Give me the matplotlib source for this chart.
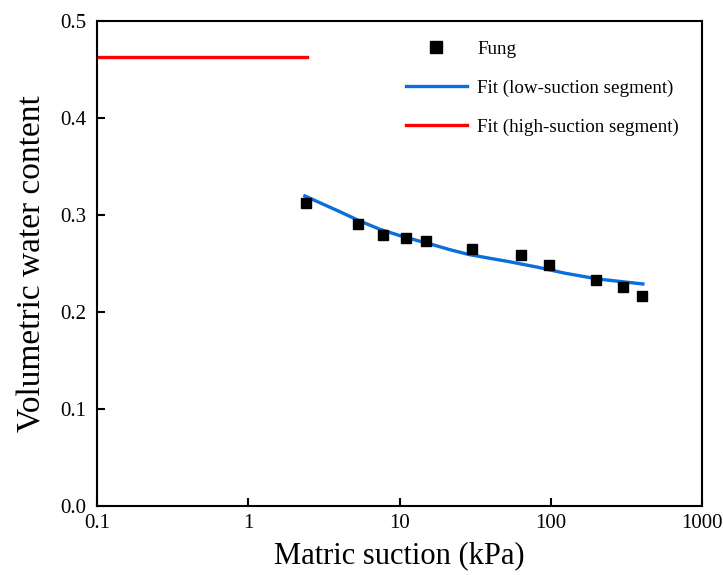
import matplotlib
matplotlib.use("Agg")
import matplotlib.pyplot as plt
from matplotlib.ticker import FixedLocator, FixedFormatter, NullLocator

plt.rcParams['font.family'] = ['Liberation Serif', 'DejaVu Serif']

# Measured data (Fung)
suction = [2.4, 5.3, 7.7, 11, 15, 30, 63, 97, 200, 300, 400]
theta = [0.312, 0.290, 0.279, 0.276, 0.273, 0.265, 0.258, 0.248, 0.233, 0.225, 0.216]

# Fit curve, low-suction segment
fit_low_x = [2.36, 2.96, 4.02, 5.45, 7.39, 10.0, 13.2, 15.8, 21.4, 29.0, 39.4, 53.4, 82.2, 123, 205, 406]
fit_low_y = [0.3193, 0.3124, 0.3031, 0.2935, 0.2850, 0.2785, 0.2732, 0.2700, 0.2640, 0.2588, 0.2551, 0.2515, 0.2458, 0.2398, 0.2337, 0.2286]

# Fit, high-suction segment
fit_high_x = [0.1, 2.42]
fit_high_y = [0.4623, 0.4623]

xticks = [0.1, 1, 10, 100, 1000]
xtick_labels = ['0.1', '1', '10', '100', '1000']
yticks = [0.0, 0.1, 0.2, 0.3, 0.4, 0.5]
ytick_labels = ['0.0', '0.1', '0.2', '0.3', '0.4', '0.5']

fig = plt.figure(figsize=(7.23, 5.75), dpi=100)
ax = fig.add_axes([0.1346, 0.1205, 0.971 - 0.1346, 0.964 - 0.1205])

ax.plot(suction, theta, linestyle='none', marker='s', markersize=7, color='black', label='Fung', zorder=3)
ax.plot(fit_low_x, fit_low_y, color='#0a6fdc', linewidth=2.4, label='Fit (low-suction segment)', zorder=2)
ax.plot(fit_high_x, fit_high_y, color='#ff0000', linewidth=2.4, label='Fit (high-suction segment)', zorder=2)

ax.set_xscale('log')
ax.set_xlim(0.1, 1000)
ax.set_ylim(0, 0.5)
ax.xaxis.set_major_locator(FixedLocator(xticks))
ax.xaxis.set_major_formatter(FixedFormatter(xtick_labels))
ax.xaxis.set_minor_locator(NullLocator())
ax.yaxis.set_major_locator(FixedLocator(yticks))
ax.yaxis.set_major_formatter(FixedFormatter(ytick_labels))

ax.tick_params(axis='both', direction='in', length=6, width=1.5, labelsize=15)
ax.tick_params(axis='x', pad=6)
ax.tick_params(axis='y', pad=8)
for s in ax.spines.values():
    s.set_linewidth(1.5)

ax.set_xlabel('Matric suction (kPa)', fontsize=22, labelpad=6)
ax.set_ylabel('Volumetric water content', fontsize=24, labelpad=9)

leg = ax.legend(loc='upper left', bbox_to_anchor=(0.482, 0.995), frameon=False,
                fontsize=13.7, handlelength=3.2, labelspacing=1.15, handletextpad=0.55,
                markerscale=1.3)

fig.savefig('out.png', dpi=100)
